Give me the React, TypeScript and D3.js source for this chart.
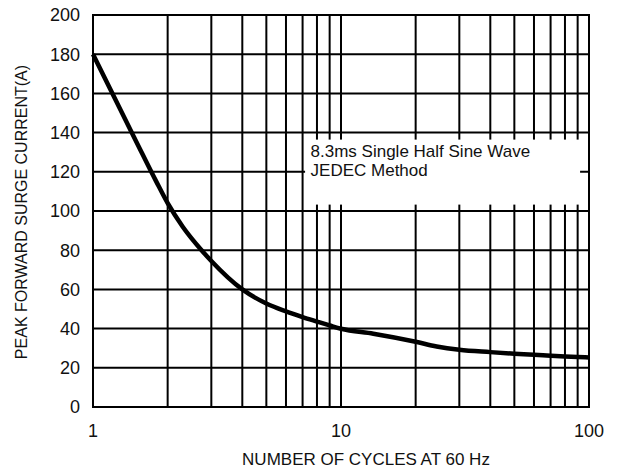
import React, { useRef, useEffect } from "react";
import * as d3 from "d3";

// Curve (cycles at 60 Hz -> peak forward surge current, A)
const cycles = [1, 1.5, 1.8, 2, 2.3, 2.74, 3, 4, 5, 6, 7, 8, 9, 10, 13.5, 20, 24.3, 30, 40, 50, 60, 70, 80, 90, 100];
const current = [180, 135, 115, 104, 92, 80, 74.5, 60, 52.8, 48.8, 45.9, 43.6, 41.6, 39.9, 37.4, 33.3, 30.9, 29.2, 28, 27.2, 26.7, 26.2, 25.8, 25.5, 25.3];

const xTickLabels = [1, 10, 100];
const yTickLabels = [0, 20, 40, 60, 80, 100, 120, 140, 160, 180, 200];
const noteLines = ["8.3ms Single Half Sine Wave", "JEDEC Method"];

const xTitle = "NUMBER OF CYCLES AT 60 Hz";
const yTitle = "PEAK FORWARD SURGE CURRENT(A)";

export default function App() {
  const svgRef = useRef<SVGSVGElement>(null);

  useEffect(() => {
    if (!svgRef.current) return;
    const width = 617;
    const height = 473;
    const margin = { top: 15, right: 28, bottom: 66, left: 93 };
    const font = "Arial, 'Liberation Sans', sans-serif";

    const svg = d3.select(svgRef.current);
    svg.selectAll("*").remove();
    svg.attr("width", width).attr("height", height);

    const x = d3.scaleLog().domain([1, 100]).range([margin.left, width - margin.right]);
    const y = d3.scaleLinear().domain([0, 200]).range([height - margin.bottom, margin.top]);

    svg.append("rect").attr("width", width).attr("height", height).attr("fill", "#fff");

    // vertical grid (every log minor tick)
    const xGrid = x.ticks().filter(v => v > 1 && v < 100);
    svg.append("g")
      .selectAll("line")
      .data(xGrid)
      .enter()
      .append("line")
      .attr("x1", d => x(d))
      .attr("x2", d => x(d))
      .attr("y1", y(200))
      .attr("y2", y(0))
      .attr("stroke", "#000")
      .attr("stroke-width", 2);

    // horizontal grid
    svg.append("g")
      .selectAll("line")
      .data(yTickLabels.filter(v => v > 0 && v < 200))
      .enter()
      .append("line")
      .attr("x1", x(1))
      .attr("x2", x(100))
      .attr("y1", d => y(d))
      .attr("y2", d => y(d))
      .attr("stroke", "#000")
      .attr("stroke-width", 2);

    // frame
    svg.append("rect")
      .attr("x", x(1))
      .attr("y", y(200))
      .attr("width", x(100) - x(1))
      .attr("height", y(0) - y(200))
      .attr("fill", "none")
      .attr("stroke", "#000")
      .attr("stroke-width", 2);

    // note box covering the grid
    const boxX = x(7) + 2.5;
    const boxY = y(140) + 7;
    svg.append("rect")
      .attr("x", boxX)
      .attr("y", boxY)
      .attr("width", 275)
      .attr("height", 65)
      .attr("fill", "#fff");

    svg.append("g")
      .selectAll("text")
      .data(noteLines)
      .enter()
      .append("text")
      .attr("x", boxX + 5.5)
      .attr("y", (d, i) => boxY + 17 + i * 19.5)
      .attr("font-family", font)
      .attr("font-size", 17)
      .attr("fill", "#111")
      .text(d => d);

    // curve
    const pts = cycles.map((c, i) => [c, current[i]] as [number, number]);
    const line = d3.line<[number, number]>()
      .x(d => x(d[0]))
      .y(d => y(d[1]))
      .curve(d3.curveMonotoneX);
    svg.append("path")
      .attr("d", line(pts) || "")
      .attr("fill", "none")
      .attr("stroke", "#000")
      .attr("stroke-width", 4.5)
      .attr("stroke-linejoin", "round");

    // y tick labels
    svg.append("g")
      .selectAll("text")
      .data(yTickLabels)
      .enter()
      .append("text")
      .attr("x", 80)
      .attr("y", d => y(d))
      .attr("dy", "0.36em")
      .attr("text-anchor", "end")
      .attr("font-family", font)
      .attr("font-size", 18)
      .attr("fill", "#111")
      .text(d => d);

    // x tick labels
    svg.append("g")
      .selectAll("text")
      .data(xTickLabels)
      .enter()
      .append("text")
      .attr("x", d => x(d))
      .attr("y", 437)
      .attr("text-anchor", "middle")
      .attr("font-family", font)
      .attr("font-size", 18)
      .attr("fill", "#111")
      .text(d => d);

    // axis titles
    svg.append("text")
      .attr("x", 366)
      .attr("y", 465)
      .attr("text-anchor", "middle")
      .attr("font-family", font)
      .attr("font-size", 17)
      .attr("fill", "#111")
      .text(xTitle);

    svg.append("text")
      .attr("transform", "translate(27,212) rotate(-90)")
      .attr("text-anchor", "middle")
      .attr("font-family", font)
      .attr("font-size", 16)
      .attr("fill", "#111")
      .text(yTitle);
  }, []);

  return (
    <div style={{ position: "absolute", left: 0, top: 0 }}>
      <svg ref={svgRef} style={{ display: "block" }} />
    </div>
  );
}
